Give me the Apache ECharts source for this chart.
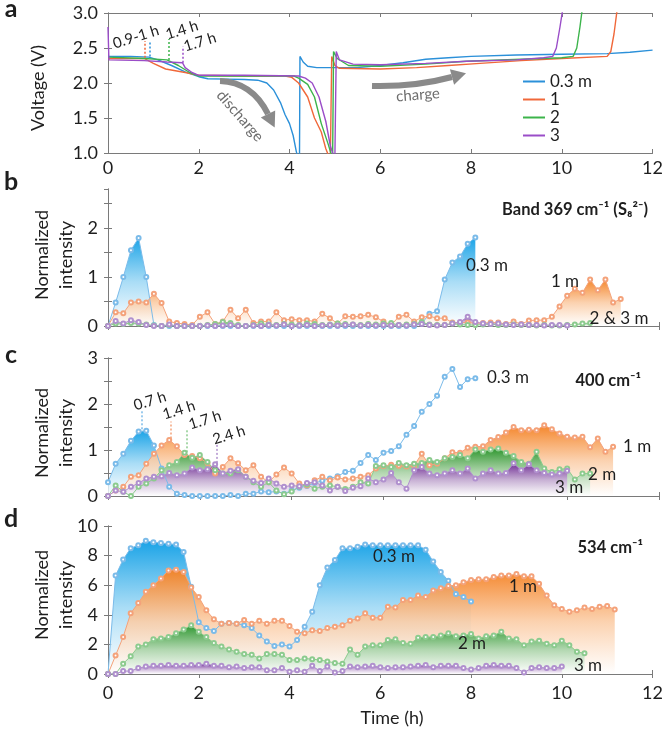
<!DOCTYPE html>
<html>
<head>
<meta charset="utf-8">
<script src="https://cdn.jsdelivr.net/npm/echarts@6/dist/echarts.min.js"></script>
<style>
  html, body { margin: 0; padding: 0; background: #fff; }
  #chart { width: 666px; height: 730px; }
</style>
</head>
<body>
<div id="chart"></div>
<script>
// ---- data -------------------------------------------------------------
// sampling interval of the Raman spectra (10 min)
const STEP = 1 / 6;

// panel a: voltage profiles [time h, V]
const vBlue = [[0,2.38],[0.5,2.38],[0.9,2.37],[1.1,2.33],[1.4,2.25],[1.7,2.16],[2.0,2.09],[2.2,2.06],[2.6,2.055],[3.0,2.05],[3.3,2.04],[3.5,2.0],[3.65,1.9],[3.8,1.72],[3.9,1.55],[4.0,1.42],[4.08,1.25],[4.15,1.02],[4.18,0.95],[4.22,0.98],[4.23,2.38],[4.3,2.3],[4.4,2.24],[4.6,2.22],[5.5,2.22],[6.0,2.25],[6.5,2.29],[7.0,2.34],[7.5,2.36],[8.0,2.38],[9.0,2.4],[10.0,2.41],[11.0,2.42],[11.5,2.44],[12.0,2.47]];
const vOrange = [[0,2.35],[0.8,2.35],[1.0,2.28],[1.27,2.2],[1.7,2.15],[2.0,2.11],[3.0,2.1],[3.9,2.1],[4.05,2.08],[4.2,2.0],[4.4,1.8],[4.55,1.5],[4.7,1.3],[4.8,1.06],[4.85,0.98],[4.9,0.95],[4.93,2.38],[5.0,2.25],[5.1,2.21],[6.0,2.2],[6.8,2.22],[7.5,2.25],[8.2,2.28],[9.1,2.32],[10.0,2.35],[11.0,2.38],[11.08,2.45],[11.15,2.7],[11.22,3.05]];
const vGreen = [[0,2.37],[0.8,2.35],[1.3,2.33],[1.55,2.25],[1.8,2.15],[2.0,2.1],[3.0,2.1],[4.1,2.1],[4.2,2.07],[4.4,1.98],[4.55,1.8],[4.7,1.42],[4.85,1.13],[4.92,0.98],[4.95,0.95],[4.97,2.45],[5.05,2.35],[5.3,2.25],[6.0,2.24],[7.0,2.27],[7.9,2.31],[9.1,2.34],[10.0,2.36],[10.25,2.38],[10.33,2.5],[10.4,2.8],[10.45,3.05]];
const vPurple = [[0,2.8],[0.02,2.33],[0.8,2.32],[1.3,2.3],[1.64,2.29],[1.7,2.22],[1.85,2.15],[2.0,2.11],[3.0,2.11],[4.2,2.1],[4.35,2.07],[4.5,2.0],[4.65,1.8],[4.8,1.45],[4.9,1.1],[4.96,0.98],[5.0,0.95],[5.03,2.45],[5.1,2.33],[5.4,2.27],[6.0,2.26],[7.0,2.28],[7.9,2.31],[9.0,2.33],[9.6,2.36],[9.8,2.38],[9.88,2.5],[9.96,2.8],[10.02,3.05]];

// panel b: 369 cm-1 band, one value every STEP hours
const bBlue = [0,0.48,1.0,1.55,1.8,1.0,0.02,0,0,0,0,0,0,0,0,0,0,0,0,0,0,0,0,0,0,0,0,0,0,0,0,0,0,0,0,0,0,0,0,0,0,0.05,0.25,0.3,0.95,1.3,1.42,1.68,1.81];
const bOrange = [0,0.28,0.26,0.48,0.5,0.48,0.66,0.47,0.09,0.06,0.04,0.02,0.19,0.28,0.04,0.09,0.33,0.16,0.33,0.06,0.09,0.09,0.28,0.12,0.14,0.12,0.12,0.09,0.25,0.16,0.05,0.2,0.19,0.2,0.23,0.18,0.09,0.02,0.19,0.23,0.09,0.18,0.2,0.16,0.16,0.07,0.07,0.07,0.06,0.06,0.07,0.07,0.04,0.09,0.04,0.11,0.12,0.12,0.19,0.4,0.62,0.76,0.68,0.95,0.73,0.95,0.48,0.55];
const bGreen = [0,0.05,0.04,0.06,0.05,0.03,0.01,0,0.02,0,0,0,0,0.02,0.04,0.08,0.06,0.02,0,0.02,0.05,0.03,0.02,0.04,0.03,0.02,0.05,0.04,0.02,0.03,0.05,0.04,0.03,0.02,0.04,0.03,0.05,0.06,0.02,0.03,0.04,0.08,0.03,0.02,0.02,0.05,0.03,0.02,0.02,0.03,0.04,0.02,0.02,0.03,0.02,0.02,0.01,0.02,0.01,0.01,0.02,0.03,0.05,0.06];
const bPurple = [0,0.1,0.05,0.12,0.08,0.02,0,0,0.03,0,0,0,0,0.01,0,0.01,0.02,0,0,0.01,0,0.02,0.01,0.03,0,0.01,0.02,0,0.01,0.02,0.01,0.02,0.03,0.01,0.02,0.01,0.02,0.01,0.02,0.01,0.03,0.04,0.02,0.01,0.02,0.05,0.08,0.19,0.08,0.05,0.04,0.05,0.03,0.02,0.03,0.02,0.02,0.01,0.02,0.02,0.01];

// panel c: 400 cm-1
const cBlue = [0.3,0.7,0.92,1.2,1.4,1.42,1.1,0.6,0.2,0.05,0.02,0,0,0,0,0,0.02,0,0.05,0.05,0.1,0.08,0.1,0.05,0.12,0.18,0.22,0.28,0.33,0.38,0.43,0.52,0.55,0.72,0.89,0.78,0.94,0.98,1.08,1.33,1.52,1.83,2.0,2.18,2.59,2.76,2.37,2.54,2.56];
const cOrange = [0,0.12,0.2,0.42,0.45,0.7,0.92,1.1,1.22,1.08,0.89,0.87,0.82,0.72,0.49,0.63,0.82,0.71,0.56,0.67,0.42,0.3,0.47,0.62,0.49,0.27,0.23,0.34,0.42,0.34,0.4,0.36,0.38,0.42,0.45,0.6,0.65,0.68,0.66,0.64,0.66,0.92,0.67,0.7,0.82,0.95,0.94,1.05,1.07,1.08,1.22,1.28,1.38,1.5,1.43,1.44,1.43,1.54,1.45,1.36,1.29,1.27,1.29,1.06,1.25,0.96,1.07];
const cGreen = [0,0.23,0.09,0,0.2,0.27,0.38,0.56,0.67,0.74,0.94,0.83,0.89,0.74,0.56,0.49,0.49,0.56,0.42,0.3,0.2,0.3,0.12,0.04,0.1,0.2,0.25,0.16,0.2,0.23,0.2,0.15,0.2,0.3,0.27,0.65,0.67,0.63,0.72,0.67,0.7,0.72,0.78,0.74,0.82,0.85,0.89,0.82,1.01,0.96,1.01,1.03,0.94,0.87,0.74,0.7,0.96,0.6,0.52,0.58,0.6,0.36,0.49,0.49];
const cPurple = [0,0.12,0.09,0.2,0.28,0.38,0.42,0.43,0.5,0.45,0.49,0.62,0.56,0.58,0.69,0.49,0.55,0.58,0.42,0.33,0.28,0.38,0.27,0.2,0.23,0.21,0.28,0.3,0.23,0.12,0.2,0.11,0.18,0.21,0.38,0.3,0.36,0.5,0.3,0.16,0.56,0.63,0.49,0.45,0.49,0.56,0.49,0.6,0.38,0.49,0.56,0.49,0.5,0.71,0.56,0.69,0.56,0.5,0.47,0.49,0.55];

// panel d: 534 cm-1
const dBlue = [0,6.65,7.73,8.5,8.7,9.0,8.9,8.85,8.8,8.75,8.25,5.9,3.5,3.1,2.9,3.4,3.45,3.4,3.3,3.1,2.6,2.2,1.9,2.0,1.85,2.3,3.2,4.2,6.0,7.2,7.7,8.5,8.5,8.6,8.75,8.7,8.7,8.7,8.7,8.7,8.7,8.7,8.4,7.6,6.9,6.3,5.4,5.2,4.9];
const dOrange = [0,1.25,2.5,4.1,4.8,5.55,6.0,6.45,7.0,7.05,6.9,5.85,5.2,4.3,3.7,3.4,3.45,3.4,3.65,3.4,3.6,3.4,3.6,3.6,3.25,2.85,2.75,2.95,2.9,3.1,3.2,3.3,3.6,3.75,4.1,3.8,3.8,4.55,4.5,5.0,5.0,5.3,5.2,5.65,5.8,5.95,6.0,6.2,6.35,6.4,6.4,6.55,6.65,6.65,6.75,6.6,6.6,6.1,5.3,4.65,4.4,4.2,4.3,4.5,4.4,4.55,4.6,4.35];
const dGreen = [0,0,0.7,1.2,1.85,2.0,2.35,2.4,2.5,2.75,3.0,3.3,2.85,2.5,2.1,1.85,1.65,1.5,1.35,1.3,1.05,1.35,1.35,1.3,0.95,0.95,1.05,1.0,0.95,0.85,0.75,0.7,1.65,1.3,1.85,1.95,1.95,2.3,2.35,2.1,2.05,2.45,2.5,2.5,2.6,2.75,2.55,2.6,2.7,2.4,2.55,2.6,2.85,2.4,2.35,1.95,2.2,2.25,2.05,1.95,2.25,1.95,1.5,1.4];
const dPurple = [0,0,0.2,0.2,0.4,0.5,0.55,0.55,0.6,0.55,0.55,0.6,0.6,0.7,0.55,0.55,0.45,0.5,0.4,0.45,0.45,0.25,0.25,0.4,0.15,0.25,0.15,0.55,0.2,0.5,0.1,0.2,0.5,0.45,0.5,0.55,0.45,0.4,0.45,0.45,0.5,0.55,0.6,0.45,0.55,0.55,0.55,0.4,0.3,0.4,0.55,0.6,0.55,0.55,0.4,0.1,0.4,0.45,0.4,0.4,0.5];

const legendNames = ['0.3 m', '1', '2', '3'];
const xTicks = [0, 12, 2];

// ---- styling ----------------------------------------------------------
const FONT = 'Lato, "DejaVu Sans", sans-serif';
const AXIS = '#7a7a7a';
const INK = '#1e1e1e';
const vColors = ['#2b90d9', '#f0683a', '#3cb44b', '#9a4dc8'];
const pal = {
  blue:   { line: '#7bbbe9', fill: [18, 160, 230] },
  orange: { line: '#f4a27a', fill: [244, 130, 36] },
  green:  { line: '#8ccb8e', fill: [40, 150, 45] },
  purple: { line: '#b090ce', fill: [112, 40, 150] }
};

function pts(arr) { return arr.map((v, i) => [+(i * STEP).toFixed(4), v]); }

// fills fade from the series colour into a nearly opaque white
function grad(c) {
  const mid = c.map(v => Math.round(v * 0.4 + 255 * 0.6));
  return new echarts.graphic.LinearGradient(0, 0, 0, 1, [
    { offset: 0, color: 'rgba(' + c.join(',') + ',0.97)' },
    { offset: 0.5, color: 'rgba(' + mid.join(',') + ',0.9)' },
    { offset: 1, color: 'rgba(255,255,255,0.82)' }
  ]);
}

function spec(name, g, vals, c, withArea) {
  const s = {
    name: name, type: 'line', xAxisIndex: g, yAxisIndex: g,
    data: pts(vals), symbol: 'emptyCircle', symbolSize: 4,
    lineStyle: { width: 1, color: c.line },
    itemStyle: { color: c.line, borderWidth: 1 },
    emphasis: { disabled: true }, animation: false
  };
  if (withArea !== false) s.areaStyle = { color: grad(c.fill), opacity: 1 };
  return s;
}

function fillOnly(name, g, vals, c) {
  return {
    name: name, type: 'line', xAxisIndex: g, yAxisIndex: g,
    data: pts(vals), symbol: 'none', lineStyle: { width: 0, opacity: 0 },
    areaStyle: { color: grad(c.fill), opacity: 1 }, z: 1, animation: false
  };
}

function dash(x, y1, y2, color) {
  return {
    symbol: 'none', silent: true, animation: false,
    label: { show: false },
    lineStyle: { type: [2, 2], color: color, width: 1.5 },
    data: [[{ coord: [x, y1] }, { coord: [x, y2] }]]
  };
}

function voltage(i, data, mark) {
  return {
    name: legendNames[i], type: 'line', xAxisIndex: 0, yAxisIndex: 0,
    data: data, showSymbol: false, lineStyle: { width: 1.4, color: vColors[i] },
    itemStyle: { color: vColors[i] }, markLine: mark, animation: false
  };
}

const grids = [
  { left: 108, right: 7, top: 13, height: 140 },
  { left: 108, right: 7, top: 189, height: 137 },
  { left: 108, right: 7, top: 358, height: 138 },
  { left: 108, right: 7, top: 526, height: 148 }
];
const yRanges = [
  { min: 1, max: 3, interval: 0.5, fmt: v => v.toFixed(1) },
  { min: 0, max: 2.8, interval: 0.5, fmt: v => (Number.isInteger(v) ? String(v) : '') },
  { min: 0, max: 3, interval: 0.5, fmt: v => (Number.isInteger(v) ? String(v) : '') },
  { min: 0, max: 10, interval: 2, fmt: v => String(v) }
];

const tickStyle = { inside: true, length: 4, lineStyle: { color: AXIS } };
const lineStyle = { show: true, lineStyle: { color: AXIS, width: 1 } };

const xAxis = [], yAxis = [];
grids.forEach((g, i) => {
  xAxis.push({
    type: 'value', gridIndex: i, position: 'bottom',
    min: xTicks[0], max: xTicks[1], interval: xTicks[2],
    axisLine: lineStyle, axisTick: tickStyle, splitLine: { show: false },
    axisLabel: { show: i === 0 || i === 3, margin: i === 0 ? 6 : 10, fontSize: 18, color: INK, fontFamily: FONT }
  });
});
grids.forEach((g, i) => {
  xAxis.push({
    type: 'value', gridIndex: i, position: 'top',
    min: xTicks[0], max: xTicks[1], interval: xTicks[2],
    axisLine: lineStyle, axisTick: tickStyle, splitLine: { show: false },
    axisLabel: { show: false }
  });
});
yRanges.forEach((r, i) => {
  yAxis.push({
    type: 'value', gridIndex: i, position: 'left',
    min: r.min, max: r.max, interval: r.interval,
    axisLine: lineStyle, axisTick: tickStyle, splitLine: { show: false },
    axisLabel: { margin: 10, fontSize: 18, color: INK, fontFamily: FONT, formatter: r.fmt, showMaxLabel: i !== 1 }
  });
});
yRanges.forEach((r, i) => {
  yAxis.push({
    type: 'value', gridIndex: i, position: 'right',
    min: r.min, max: r.max, interval: r.interval,
    axisLine: lineStyle, axisTick: tickStyle, splitLine: { show: false },
    axisLabel: { show: false }
  });
});

const series = [
  voltage(0, vBlue, dash(0.93, 2.38, 2.6, vColors[0])),
  voltage(1, vOrange, dash(0.8, 2.36, 2.6, vColors[1])),
  voltage(2, vGreen, dash(1.33, 2.33, 2.63, vColors[2])),
  voltage(3, vPurple, dash(1.64, 2.29, 2.52, vColors[3])),

  spec('b 0.3 m', 1, bBlue, pal.blue),
  spec('b 1 m', 1, bOrange, pal.orange),
  spec('b 2 m', 1, bGreen, pal.green),
  spec('b 3 m', 1, bPurple, pal.purple),

  fillOnly('c 0.3 m fill', 2, cBlue.slice(0, 10), pal.blue),
  Object.assign(spec('c 0.3 m', 2, cBlue, pal.blue, false), { markLine: dash(0.73, 1.45, 1.85, pal.blue.line) }),
  Object.assign(spec('c 1 m', 2, cOrange, pal.orange), { markLine: dash(1.37, 1.25, 1.62, pal.orange.line) }),
  Object.assign(spec('c 2 m', 2, cGreen, pal.green), { markLine: dash(1.72, 0.95, 1.45, pal.green.line) }),
  Object.assign(spec('c 3 m', 2, cPurple, pal.purple), { markLine: dash(2.37, 0.72, 1.12, pal.purple.line) }),

  spec('d 0.3 m', 3, dBlue, pal.blue),
  spec('d 1 m', 3, dOrange, pal.orange),
  spec('d 2 m', 3, dGreen, pal.green),
  spec('d 3 m', 3, dPurple, pal.purple)
];

// ---- annotations ------------------------------------------------------
function txt(text, x, y, o) {
  o = o || {};
  return {
    type: 'text', x: x, y: y, rotation: o.rot || 0, z: 100, silent: true,
    style: {
      text: text, fontSize: o.size || 17, fontFamily: FONT,
      fontWeight: o.weight || 'normal', fill: o.color || INK,
      align: o.align || 'center', verticalAlign: 'middle'
    }
  };
}

const ARROW = '#8a8a8a';
const graphic = [
  txt('a', 11, 9, { size: 25, weight: 'bold' }),
  txt('b', 11, 182, { size: 25, weight: 'bold' }),
  txt('c', 11, 355, { size: 25, weight: 'bold' }),
  txt('d', 11, 519, { size: 25, weight: 'bold' }),

  txt('Voltage (V)', 38, 88, { size: 18, rot: Math.PI / 2 }),
  txt('Normalized', 42, 255, { size: 18, rot: Math.PI / 2 }),
  txt('intensity', 66, 255, { size: 18, rot: Math.PI / 2 }),
  txt('Normalized', 42, 433, { size: 18, rot: Math.PI / 2 }),
  txt('intensity', 66, 433, { size: 18, rot: Math.PI / 2 }),
  txt('Normalized', 42, 595, { size: 18, rot: Math.PI / 2 }),
  txt('intensity', 66, 595, { size: 18, rot: Math.PI / 2 }),
  txt('Time (h)', 392, 718, { size: 18 }),

  // panel a
  txt('0.9-1 h', 136, 37, { size: 15, rot: 0.3 }),
  txt('1.4 h', 182, 30, { size: 15, rot: 0.3 }),
  txt('1.7 h', 200, 42, { size: 15, rot: 0.3 }),
  txt('discharge', 240, 116, { size: 15, rot: -0.85, color: '#6e6e6e' }),
  txt('charge', 418, 95, { size: 15, rot: 0.08, color: '#6e6e6e' }),
  {
    type: 'bezierCurve', z: 90, silent: true,
    shape: { x1: 220, y1: 81, cpx1: 252, cpy1: 82, x2: 268, y2: 114 },
    style: { stroke: ARROW, lineWidth: 6, fill: null }
  },
  {
    type: 'polygon', z: 90, silent: true,
    shape: { points: [[275.2, 110.4], [260.8, 117.6], [274.7, 127.4]] },
    style: { fill: ARROW }
  },
  {
    type: 'bezierCurve', z: 90, silent: true,
    shape: { x1: 372, y1: 86, cpx1: 415, cpy1: 87, x2: 452, y2: 77 },
    style: { stroke: ARROW, lineWidth: 6, fill: null }
  },
  {
    type: 'polygon', z: 90, silent: true,
    shape: { points: [[454.1, 84.7], [449.9, 69.3], [466, 73.2]] },
    style: { fill: ARROW }
  },

  // panel b
  txt('Band 369 cm\u207B\u00B9 (S\u2088\u00B2\u207B)', 648, 210, { size: 16.5, weight: 'bold', align: 'right' }),
  txt('0.3 m', 487, 266),
  txt('1 m', 565, 282),
  txt('2 & 3 m', 619, 319),

  // panel c
  txt('0.7 h', 150, 401, { size: 15, rot: 0.3 }),
  txt('1.4 h', 179, 410, { size: 15, rot: 0.3 }),
  txt('1.7 h', 205, 420, { size: 15, rot: 0.3 }),
  txt('2.4 h', 229, 435, { size: 15, rot: 0.3 }),
  txt('400 cm\u207B\u00B9', 641, 381, { size: 16.5, weight: 'bold', align: 'right' }),
  txt('0.3 m', 487, 378, { align: 'left' }),
  txt('1 m', 623, 447, { align: 'left' }),
  txt('2 m', 588, 475, { align: 'left' }),
  txt('3 m', 555, 488, { align: 'left' }),

  // panel d
  txt('534 cm\u207B\u00B9', 643, 548, { size: 16.5, weight: 'bold', align: 'right' }),
  txt('0.3 m', 394, 557),
  txt('1 m', 523, 587),
  txt('2 m', 472, 644),
  txt('3 m', 588, 666)
];

const chart = echarts.init(document.getElementById('chart'), null, { renderer: 'canvas' });
chart.setOption({
  animation: false,
  backgroundColor: '#fff',
  textStyle: { fontFamily: FONT },
  grid: grids,
  xAxis: xAxis,
  yAxis: yAxis,
  legend: {
    data: legendNames, orient: 'vertical', left: 518, top: 68,
    icon: 'rect', itemWidth: 22, itemHeight: 2, itemGap: 1,
    textStyle: { fontSize: 17, color: INK, fontFamily: FONT, lineHeight: 17 },
    selectedMode: false
  },
  series: series,
  graphic: graphic
});
</script>
</body>
</html>
